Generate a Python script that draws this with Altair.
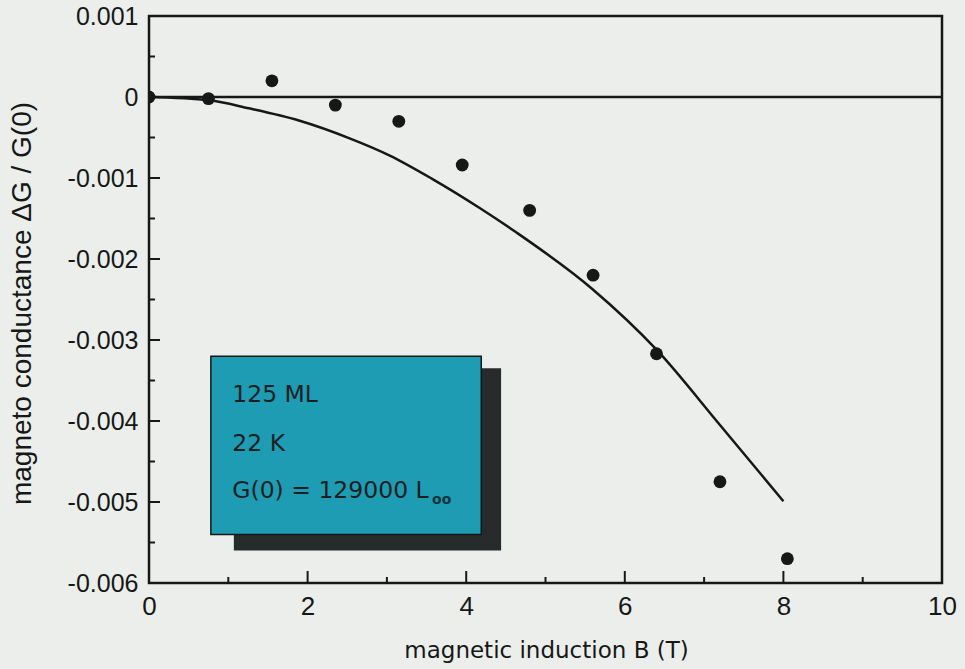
import altair as alt
import pandas as pd

# Measured magneto conductance (points)
B_meas = [0, 0.75, 1.55, 2.35, 3.15, 3.95, 4.8, 5.6, 6.4, 7.2, 8.05]
dG_meas = [0, -0.00002, 0.0002, -0.0001, -0.0003, -0.00084, -0.0014, -0.0022, -0.00317, -0.00475, -0.0057]

# Theoretical curve
B_fit = [0, 0.76, 1.26, 1.89, 2.53, 3.03, 3.57, 4.17, 4.63, 5.59, 6.4, 7.2, 8.0]
dG_fit = [0, -0.00004, -0.00014, -0.00029, -0.00051, -0.00072, -0.00101, -0.00137,
          -0.00167, -0.00237, -0.00312, -0.00405, -0.00499]

# Axis ticks
y_major = [0.001, 0, -0.001, -0.002, -0.003, -0.004, -0.005, -0.006]
y_minor = [0.0005, -0.0005, -0.0015, -0.0025, -0.0035, -0.0045, -0.0055]
x_major = [2, 4, 6, 8]
x_minor = [1, 3, 5, 7, 9]
x_labels = [0, 2, 4, 6, 8, 10]

# Info box
info_lines = ["125 ML", "22 K", "G(0) = 129000 L"]
info_levels = [-0.00368, -0.00429, -0.00486]
info_left = 1.05
sub_text = ["oo"]
sub_pos = [3.57]
sub_level = [-0.00497]
box_x = [0.78, 4.19]
box_y = [-0.0032, -0.0054]
shadow_x = [1.07, 4.44]
shadow_y = [-0.00335, -0.0056]

W, H = 793, 567
ink = "#161818"

xs = alt.Scale(domain=[0, 10], nice=False, zero=False)
ys = alt.Scale(domain=[-0.006, 0.001], nice=False, zero=False)

x_axis = alt.Axis(
    values=x_labels, title="magnetic induction B (T)", ticks=False, domain=False, grid=False,
    labelFont="Liberation Sans", labelFontSize=26, labelColor=ink, labelPadding=10,
    labelFlush=False,
    titleFont="DejaVu Sans", titleFontSize=23, titleFontWeight="normal", titleColor=ink,
    titleX=397, titleY=67, titleBaseline="middle", titleAlign="center")
y_axis = alt.Axis(
    values=y_major, labelExpr="'' + datum.value", title="magneto conductance \u0394G / G(0)",
    ticks=False, domain=False, grid=False,
    labelFont="Liberation Sans", labelFontSize=25, labelColor=ink, labelPadding=11,
    labelFlush=False,
    titleFont="Liberation Sans", titleFontSize=28, titleFontWeight="normal", titleColor=ink,
    titleX=-127, titleY=287, titleBaseline="middle", titleAlign="center")


def X(field):
    return alt.X(field, scale=xs, axis=x_axis)


def Y(field):
    return alt.Y(field, scale=ys, axis=y_axis)


meas = pd.DataFrame({"B": B_meas, "dG": dG_meas})
fit = pd.DataFrame({"B": B_fit, "dG": dG_fit})

points = alt.Chart(meas).mark_circle(size=165, color=ink, opacity=1, clip=True).encode(
    x=X("B:Q"), y=Y("dG:Q"))

curve = alt.Chart(fit).mark_line(color=ink, strokeWidth=2.5, interpolate="monotone").encode(
    x=X("B:Q"), y=Y("dG:Q"))

zero_line = alt.Chart(pd.DataFrame({"dG": [0]})).mark_rule(color=ink, strokeWidth=2.5).encode(
    y=Y("dG:Q"))

shadow = alt.Chart(pd.DataFrame({"B": [shadow_x[0]], "B2": [shadow_x[1]],
                                 "dG": [shadow_y[0]], "dG2": [shadow_y[1]]})).mark_rect(
    color="#272b2b").encode(x=X("B:Q"), x2="B2:Q", y=Y("dG:Q"), y2="dG2:Q")

box = alt.Chart(pd.DataFrame({"B": [box_x[0]], "B2": [box_x[1]],
                              "dG": [box_y[0]], "dG2": [box_y[1]]})).mark_rect(
    fill="#1d9cb4", stroke=ink, strokeWidth=1.5).encode(
    x=X("B:Q"), x2="B2:Q", y=Y("dG:Q"), y2="dG2:Q")

info = alt.Chart(pd.DataFrame({"B": [info_left] * len(info_lines), "dG": info_levels,
                               "t": info_lines})).mark_text(
    align="left", baseline="middle", font="DejaVu Sans", fontSize=23.5, color="#1c1f1f").encode(
    x=X("B:Q"), y=Y("dG:Q"), text="t:N")

sub = alt.Chart(pd.DataFrame({"B": sub_pos, "dG": sub_level, "t": sub_text})).mark_text(
    align="left", baseline="middle", font="DejaVu Sans", fontSize=14, fontWeight="bold",
    color="#15323f").encode(x=X("B:Q"), y=Y("dG:Q"), text="t:N")


def yticks(vals, length):
    return alt.Chart(pd.DataFrame({"dG": vals})).mark_rule(color=ink, strokeWidth=2).encode(
        y=Y("dG:Q"), x=alt.value(0), x2=alt.value(length))


def xticks(vals, length):
    return alt.Chart(pd.DataFrame({"B": vals})).mark_rule(color=ink, strokeWidth=2).encode(
        x=X("B:Q"), y=alt.value(H), y2=alt.value(H - length))


chart = alt.layer(
    shadow, box, info, sub, zero_line, curve, points,
    yticks(y_major[1:-1], 11), yticks(y_minor, 6),
    xticks(x_major, 12), xticks(x_minor, 6),
).properties(
    width=W, height=H,
    autosize=alt.AutoSizeParams(type="none"),
    padding={"left": 149, "top": 16, "right": 23, "bottom": 86},
    background="#eceeec",
).configure_view(stroke=ink, strokeWidth=2.5)

chart.save("out.html", embed_options={"renderer": "svg", "actions": False})
